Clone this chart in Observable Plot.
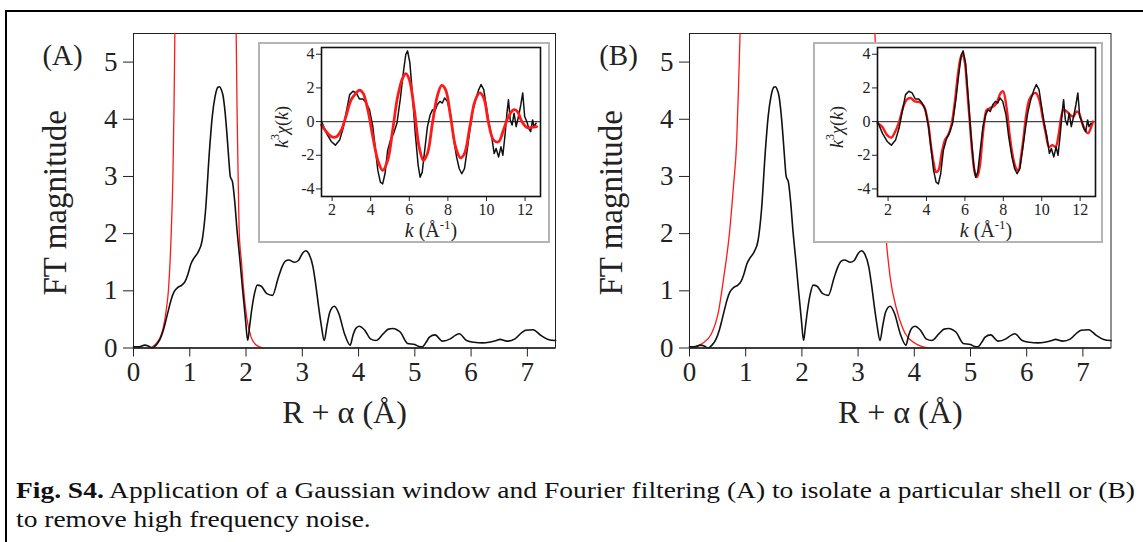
<!DOCTYPE html>
<html><head><meta charset="utf-8">
<script src="https://cdn.jsdelivr.net/npm/d3@7"></script>
<script src="https://cdn.jsdelivr.net/npm/@observablehq/plot@0.6"></script>
<style>
body{margin:0;background:#fff;}
#fig{position:relative;width:1143px;height:542px;overflow:hidden;font-family:"Liberation Serif","Times New Roman",serif;background:#fff;}
#outer{position:absolute;left:4.5px;top:9.5px;width:1300px;height:700px;border-left:2px solid #000;border-top:2px solid #000;}
.abs{position:absolute;}
.abs svg{display:block;max-width:none;overflow:visible;}
.inset{position:absolute;border:2px solid #b4b4b4;background:#fff;}
.inset svg{display:block;max-width:none;}
</style></head>
<body>
<div id="fig">
  <div id="outer"></div>
  <div id="mainA" class="abs" style="left:0;top:0"></div>
  <div id="mainB" class="abs" style="left:560px;top:0"></div>
  <div id="insetA" class="inset" style="left:258px;top:42px"></div>
  <div id="insetB" class="inset" style="left:813px;top:42px"></div>
  <svg class="abs" style="left:0;top:470px" width="1143" height="72" font-family="'Liberation Serif', 'Times New Roman', serif" font-size="24" fill="#111">
    <text id="cap1" x="16" y="28"><tspan font-weight="bold">Fig. S4.</tspan> Application of a Gaussian window and Fourier filtering (A) to isolate a particular shell or (B)</text>
    <text id="cap2" x="16" y="57">to remove high frequency noise.</text>
  </svg>
</div>
<script>
// ---------- Data ----------
// Fourier transform magnitude (black), R + alpha in Å
const ftR   = [0,0.1,0.2,0.27,0.33,0.4,0.47,0.53,0.58,0.625,0.67,0.72,0.79,0.86,0.92,0.97,1.02,1.08,1.15,1.22,1.28,1.35,1.40,1.45,1.50,1.53,1.56,1.59,1.63,1.66,1.69,1.72,1.76,1.80,1.84,1.89,1.94,1.99,2.03,2.06,2.1,2.15,2.2,2.27,2.37,2.47,2.57,2.64,2.70,2.76,2.86,2.93,3.0,3.06,3.12,3.19,3.24,3.29,3.34,3.39,3.44,3.49,3.57,3.65,3.75,3.85,3.90,3.95,4.01,4.11,4.21,4.31,4.44,4.53,4.61,4.68,4.74,4.87,5.0,5.06,5.13,5.2,5.26,5.36,5.49,5.63,5.72,5.79,5.92,6.05,6.2,6.32,6.45,6.51,6.64,6.78,6.9,6.97,7.1,7.24,7.37,7.5];
const ftMag = [0.02,0.02,0.05,0.03,0.0,0.05,0.15,0.31,0.5,0.68,0.85,0.98,1.06,1.1,1.17,1.3,1.47,1.58,1.68,1.88,2.4,3.45,4.05,4.4,4.56,4.57,4.52,4.42,4.1,3.75,3.35,3.0,2.9,2.55,2.06,1.55,1.01,0.5,0.13,0.35,0.66,0.95,1.1,1.08,0.95,0.92,1.22,1.42,1.52,1.54,1.5,1.53,1.65,1.7,1.64,1.42,1.1,0.72,0.38,0.13,0.4,0.63,0.73,0.6,0.25,0.05,0.22,0.34,0.38,0.31,0.16,0.13,0.25,0.33,0.34,0.32,0.28,0.08,0.06,0.03,0.02,0.1,0.19,0.23,0.12,0.16,0.22,0.25,0.13,0.1,0.09,0.1,0.13,0.15,0.12,0.16,0.27,0.31,0.32,0.22,0.15,0.13];

// Gaussian window (red), panel A: rising and falling flanks (the top is off the chart)
const winARiseR = [0.28,0.35,0.42,0.475,0.53,0.58,0.62,0.67,0.70,0.72,0.735];
const winARiseV = [0,0.03,0.1,0.19,0.36,0.65,1.0,2.0,3.0,4.2,5.5];
const winAFallR = [1.825,1.84,1.86,1.88,1.92,1.95,2.01,2.09,2.16,2.24,2.3];
const winAFallV = [5.5,4.2,3.0,2.0,1.5,1.1,0.55,0.19,0.07,0.02,0];
// Gaussian window (red), panel B
const winBRiseR = [0,0.1,0.23,0.39,0.52,0.61,0.71,0.78,0.84,0.87,0.90];
const winBRiseV = [0.02,0.03,0.08,0.25,0.66,1.24,2.0,2.8,3.63,4.5,5.5];
const winBFallR = [3.30,3.33,3.38,3.44,3.50,3.57,3.69,3.84,4.02,4.25];
const winBFallV = [5.5,4.5,3.6,2.8,1.9,1.24,0.66,0.25,0.08,0];

// k^3 chi(k) data (black), k in Å^-1
const chiK = [1.45,1.71,1.97,2.17,2.39,2.57,2.74,2.91,3.08,3.25,3.42,3.6,3.77,3.94,4.11,4.23,4.37,4.5,4.62,4.74,4.88,5.05,5.19,5.36,5.53,5.69,5.82,5.91,6.03,6.17,6.31,6.46,6.56,6.67,6.8,6.94,7.08,7.2,7.32,7.45,7.59,7.71,7.83,7.97,8.14,8.28,8.45,8.59,8.72,8.86,9.0,9.14,9.27,9.43,9.6,9.72,9.86,9.99,10.13,10.27,10.4,10.5,10.63,10.75,10.85,10.97,11.06,11.14,11.23,11.33,11.43,11.54,11.66,11.78,11.88,11.98,12.09,12.19,12.29,12.39,12.46,12.57];
const chiV = [0,-0.7,-1.2,-1.4,-1.1,-0.4,0.6,1.6,1.8,1.7,1.34,1.34,1.1,0.7,-0.3,-1.5,-2.9,-3.6,-3.7,-3.1,-1.7,-1.0,-0.7,-0.1,1.3,2.9,4.0,4.2,3.5,1.5,-0.7,-2.6,-3.3,-3.0,-1.7,-0.3,0.4,0.7,0.6,1.0,1.2,1.1,1.4,1.2,0.4,-0.9,-2.1,-2.8,-3.1,-2.8,-1.7,-0.5,0.5,1.3,1.9,2.2,1.9,0.9,-0.1,-0.9,-1.9,-1.6,-2.1,-1.5,-2.0,-0.7,0.5,1.3,0.1,-0.2,0.5,-0.3,0.3,1.0,1.7,0.3,0.0,-0.4,-0.6,0.1,-0.3,-0.1];

// Filtered k^3 chi(k) (red), panel A: single shell
const filtAK = [1.45,1.97,2.22,2.48,2.74,2.99,3.25,3.42,3.6,3.85,4.11,4.37,4.62,4.88,5.14,5.4,5.66,5.82,6.0,6.26,6.51,6.73,6.94,7.2,7.45,7.68,7.88,8.14,8.4,8.65,8.86,9.14,9.4,9.65,9.86,10.11,10.37,10.63,10.88,11.14,11.4,11.6,11.83,12.09,12.34,12.6];
const filtAV = [-0.2,-0.9,-0.9,-0.5,0.4,1.3,1.7,1.86,1.7,0.7,-0.9,-2.3,-2.9,-2.3,-0.5,1.5,2.6,2.85,2.5,0.7,-1.5,-2.3,-1.9,-0.1,1.5,2.15,1.9,0.3,-1.5,-2.15,-1.9,-0.3,1.2,1.7,1.4,-0.1,-1.1,-1.2,-0.5,0.3,0.7,0.6,0.0,-0.35,-0.35,-0.3];
// Filtered k^3 chi(k) (red), panel B: noise removed
const filtBK = [1.45,1.69,1.95,2.17,2.37,2.58,2.8,2.97,3.17,3.39,3.65,3.87,4.07,4.24,4.38,4.5,4.62,4.79,4.96,5.13,5.3,5.48,5.65,5.78,5.88,6.0,6.12,6.26,6.39,6.53,6.63,6.77,6.89,7.0,7.14,7.31,7.48,7.65,7.86,7.99,8.16,8.33,8.5,8.67,8.79,8.92,9.06,9.18,9.35,9.52,9.69,9.87,10.04,10.21,10.38,10.55,10.72,10.89,11.02,11.14,11.31,11.48,11.65,11.82,11.94,12.11,12.28,12.42,12.55,12.67];
const filtBV = [-0.1,-0.3,-0.8,-0.95,-0.6,0,0.9,1.3,1.4,1.2,1.15,0.9,0,-1.5,-2.5,-3.0,-2.9,-1.9,-1.1,-0.8,-0.2,1.2,2.9,3.8,4.0,3.5,1.9,-0.1,-1.9,-3.1,-3.3,-2.7,-1.3,-0.1,0.7,0.8,0.9,1.1,1.7,1.8,0.9,-0.8,-2.1,-2.8,-2.9,-2.1,-0.9,0.3,1.3,1.6,1.7,1.3,0.3,-0.7,-1.5,-1.4,-1.5,-0.7,0.3,0.7,0.6,0.4,0.3,0.6,0.5,-0.1,-0.55,-0.7,-0.4,0];

const rTicks = [0,1,2,3,4,5,6,7];
const ftTicks = [0,1,2,3,4,5];
const kTicks = [2,4,6,8,10,12];
const chiTicks = [-4,-2,0,2,4];

const pts = (xs, ys) => xs.map((x, i) => ({x, y: ys[i]}));
const FONT = "'Liberation Serif', 'Times New Roman', serif";

function mainPlot(el, width, mL, mR, riseR, riseV, fallR, fallV, panel) {
  const redOpts = {x: "x", y: "y", stroke: "#ff1a1a", strokeWidth: 1.3, curve: "monotone-x"};
  const svg = Plot.plot({
    width, height: 440,
    marginLeft: mL, marginRight: mR, marginTop: 33, marginBottom: 92.5,
    x: {domain: [0, 7.5], ticks: rTicks, tickSize: 9, tickPadding: 5, label: null, tickFormat: d => String(d)},
    y: {domain: [0, 5.5], ticks: ftTicks, tickSize: 10, tickPadding: 6, label: null, tickFormat: d => String(d)},
    style: {background: "transparent", fontFamily: FONT, fontSize: "27px", color: "#222", overflow: "visible"},
    marks: [
      Plot.frame({stroke: "#222", strokeWidth: 1}),
      Plot.line(pts(riseR, riseV), redOpts),
      Plot.line(pts(fallR, fallV), redOpts),
      Plot.line(pts(ftR, ftMag), {x: "x", y: "y", stroke: "#111", strokeWidth: 1.6, curve: "monotone-x"}),
      Plot.ruleY([0], {stroke: "#222", strokeWidth: 1.6}),
      Plot.text([panel], {text: d => d, frameAnchor: "top-left", textAnchor: "middle", lineAnchor: "middle", dx: -71, dy: 22, fontSize: 29, fill: "#222"}),
      Plot.text(["FT magnitude"], {text: d => d, frameAnchor: "left", textAnchor: "middle", lineAnchor: "middle", dx: -78, dy: 12, rotate: -90, fontSize: 33, fill: "#222"}),
      Plot.text(["R + α (Å)"], {text: d => d, frameAnchor: "bottom", textAnchor: "middle", lineAnchor: "middle", dy: 65, fontSize: 32, fill: "#222"})
    ]
  });
  document.getElementById(el).appendChild(svg);
}

function insetPlot(el, width, mL, mR, filtK, filtV, redOnTop, redWidth) {
  const black = Plot.line(pts(chiK, chiV), {x: "x", y: "y", stroke: "#111", strokeWidth: 1.5});
  const red = Plot.line(pts(filtK, filtV), {x: "x", y: "y", stroke: "#ff1a1a", strokeWidth: redWidth, curve: "catmull-rom"});
  const svg = Plot.plot({
    width, height: 197,
    marginLeft: mL, marginRight: mR, marginTop: 3, marginBottom: 45,
    x: {domain: [1.45, 12.8], ticks: kTicks, tickSize: 5, tickPadding: 2, label: null, tickFormat: d => String(d)},
    y: {domain: [-4.45, 4.4], ticks: chiTicks, tickSize: 5, tickPadding: 2, label: null, tickFormat: d => String(d)},
    style: {background: "white", fontFamily: FONT, fontSize: "16px", color: "#222"},
    marks: [
      Plot.ruleY([0], {stroke: "#444", strokeWidth: 1.3}),
      ...(redOnTop ? [black, red] : [red, black]),
      Plot.frame({stroke: "#111", strokeWidth: 1.6})
    ]
  });
  const s = d3.select(svg);
  const yl = s.append("text")
    .attr("transform", "translate(22,83) rotate(-90)")
    .attr("text-anchor", "middle").attr("dominant-baseline", "central")
    .attr("font-size", 18).attr("fill", "#222");
  yl.append("tspan").attr("font-style", "italic").text("k");
  yl.append("tspan").attr("font-size", 12).attr("dy", -7).text("3");
  yl.append("tspan").attr("font-style", "italic").attr("dy", 7).text("χ");
  yl.append("tspan").text("(");
  yl.append("tspan").attr("font-style", "italic").text("k");
  yl.append("tspan").text(")");
  const xl = s.append("text")
    .attr("x", 171).attr("y", 193)
    .attr("text-anchor", "middle")
    .attr("font-size", 20).attr("fill", "#222");
  xl.append("tspan").attr("font-style", "italic").text("k");
  xl.append("tspan").text(" (Å");
  xl.append("tspan").attr("font-size", 13).attr("dy", -8).text("-1");
  xl.append("tspan").attr("dy", 8).text(")");
  document.getElementById(el).appendChild(svg);
}

mainPlot("mainA", 580, 133, 25, winARiseR, winARiseV, winAFallR, winAFallV, "(A)");
mainPlot("mainB", 583, 129, 32.5, winBRiseR, winBRiseV, winBFallR, winBFallV, "(B)");
insetPlot("insetA", 288, 61, 8, filtAK, filtAV, true, 2.8);
insetPlot("insetB", 286, 62, 6, filtBK, filtBV, false, 2.4);

// caption: scale both lines by the same factor so the first line spans the reference width
const c1 = document.getElementById("cap1"), c2 = document.getElementById("cap2");
const n1 = c1.getComputedTextLength(), n2 = c2.getComputedTextLength();
const f = 1119 / n1;
c1.setAttribute("textLength", 1119); c1.setAttribute("lengthAdjust", "spacingAndGlyphs");
c2.setAttribute("textLength", (n2 * f).toFixed(1)); c2.setAttribute("lengthAdjust", "spacingAndGlyphs");
</script>
</body></html>
